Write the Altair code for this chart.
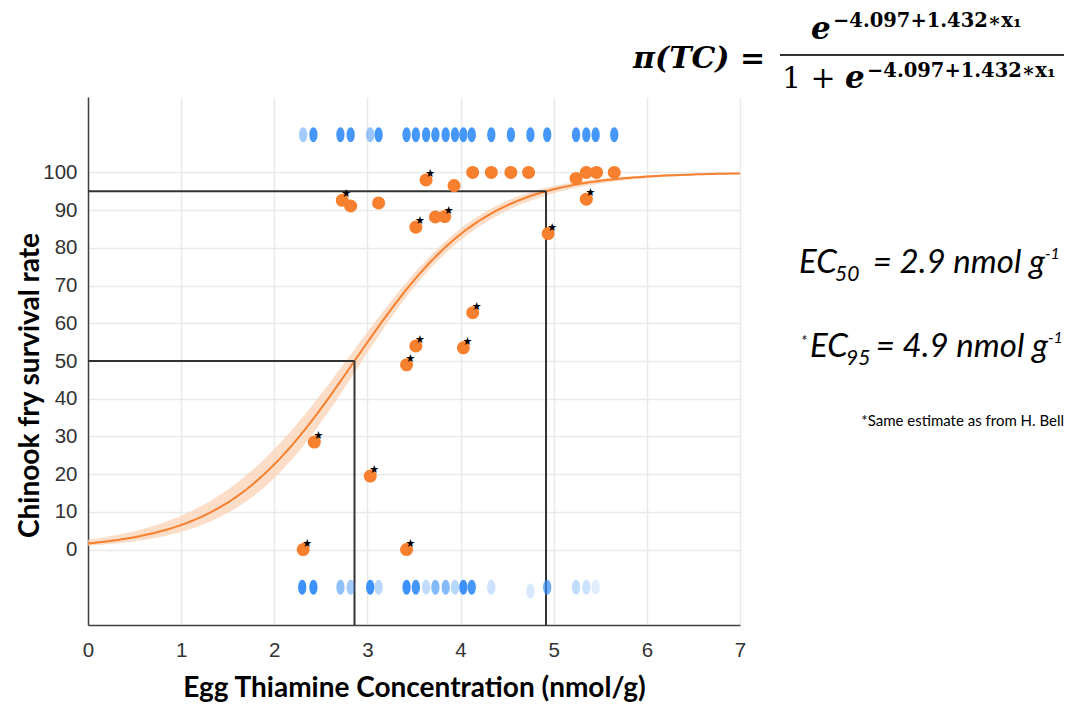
import altair as alt
import pandas as pd
import numpy as np

# ---------------- data ----------------
B0, B1 = -4.097, 1.432  # model coefficients printed in the figure

orange_x = [2.31, 2.43, 3.03, 3.42, 3.42, 3.52, 4.03, 4.13, 2.73, 2.82, 3.12, 3.63, 3.93,
            3.52, 3.73, 3.83, 4.13, 4.33, 4.54, 4.73, 5.24, 5.35, 5.46, 5.65, 5.35, 4.94]
orange_y = [0, 28.5, 19.5, 0, 49, 54, 53.5, 62.8, 92.6, 91.1, 91.9, 98, 96.5,
            85.5, 88.2, 88.3, 100, 100, 100, 100, 98.4, 100, 100, 100, 92.9, 83.8]
orange_star = [1, 1, 1, 1, 1, 1, 1, 1, 1, 0, 0, 1, 0,
               1, 0, 1, 0, 0, 0, 0, 0, 0, 0, 0, 1, 1]

blue_top_x = [2.31, 2.42, 2.71, 2.82, 3.03, 3.12, 3.42, 3.52, 3.63, 3.73, 3.84, 3.94, 4.03,
              4.12, 4.33, 4.54, 4.75, 4.93, 5.24, 5.35, 5.45, 5.65]
blue_top_op = [0.45, 0.9, 0.9, 0.9, 0.5, 0.9, 0.9, 0.9, 0.9, 0.9, 0.9, 0.9, 0.9,
               0.9, 0.9, 0.9, 0.9, 0.9, 0.9, 0.9, 0.9, 0.9]
blue_bot_x = [2.30, 2.42, 2.71, 2.82, 3.03, 3.12, 3.42, 3.52, 3.63, 3.73, 3.84, 3.94, 4.03,
              4.12, 4.33, 4.75, 4.93, 5.24, 5.35, 5.45]
blue_bot_y = [-10, -10, -10, -10, -10, -10, -10, -10, -10, -10, -10, -10, -10,
              -10, -10, -11, -10, -10, -10, -10]
blue_bot_op = [0.95, 0.95, 0.55, 0.45, 0.95, 0.35, 0.95, 0.9, 0.3, 0.6, 0.6, 0.35, 0.95,
               0.9, 0.25, 0.2, 0.7, 0.3, 0.25, 0.15]

x_ticks = [0, 1, 2, 3, 4, 5, 6, 7]
y_ticks = [0, 10, 20, 30, 40, 50, 60, 70, 80, 90, 100]

ORANGE = "#f7802f"
BLUE = "#328cfa"

# ---------------- derived tables ----------------
xs = np.linspace(0, 7, 141)
eta = B0 + B1 * xs
se = np.sqrt(0.008 + 0.018 * (xs - 3.5) ** 2)
curve = pd.DataFrame({
    "x": xs,
    "p": 100 / (1 + np.exp(-eta)),
    "lo": 100 / (1 + np.exp(-(eta - se))),
    "hi": 100 / (1 + np.exp(-(eta + se))),
})
EC50 = -B0 / B1
EC95 = (np.log(19) - B0) / B1
refs = pd.DataFrame({
    "x": [0, EC95, 0, EC50],
    "y": [95, 95, 50, 50],
    "x2": [EC95, EC95, EC50, EC50],
    "y2": [95, -20, 50, -20],
})
orange = pd.DataFrame({"x": orange_x, "y": orange_y, "star": orange_star})
blue = pd.DataFrame({
    "x": blue_top_x + blue_bot_x,
    "y": [110] * len(blue_top_x) + blue_bot_y,
    "op": blue_top_op + blue_bot_op,
})

X = alt.X("x:Q", scale=alt.Scale(domain=[0, 7], nice=False, zero=False),
          axis=alt.Axis(values=x_ticks, format="d", labelFlush=False,
                        title="Egg Thiamine Concentration (nmol/g)",
                        titleY=71, titleBaseline="alphabetic"))
Y = alt.Y("y:Q", scale=alt.Scale(domain=[-20, 120], nice=False, zero=False),
          axis=alt.Axis(values=y_ticks, format="d", labelFlush=False,
                        title="Chinook fry survival rate", titleX=-44, titleY=288))

band = alt.Chart(curve).mark_area(color="#fbd2b5", opacity=0.75).encode(
    x=X, y=alt.Y("lo:Q", scale=alt.Scale(domain=[-20, 120], nice=False, zero=False)), y2="hi:Q")
line = alt.Chart(curve).mark_line(color=ORANGE, strokeWidth=2).encode(
    x="x:Q", y=alt.Y("p:Q"))
rules = alt.Chart(refs).mark_rule(color="#333333", strokeWidth=2).encode(
    x="x:Q", y=Y, x2="x2:Q", y2="y2:Q")
blues = alt.Chart(blue).mark_point(
    shape="M0,-1A0.55,1,0,1,1,0,1A0.55,1,0,1,1,0,-1Z", size=225, filled=True,
    color=BLUE, strokeWidth=0).encode(
    x="x:Q", y="y:Q", opacity=alt.Opacity("op:Q", scale=None, legend=None))
oranges = alt.Chart(orange).mark_circle(size=170, color=ORANGE, opacity=1).encode(
    x="x:Q", y="y:Q")
stars = alt.Chart(orange).transform_filter("datum.star == 1").mark_text(
    text="★", font="DejaVu Sans", fontSize=11, color="black", dx=4, dy=-6).encode(
    x="x:Q", y="y:Q")

OX, OY = 88, 97  # page position of plot origin


def txt(text, px, py, size, font="Lato", weight="normal", style="normal",
        align="left", baseline="alphabetic", color="black"):
    return alt.Chart(pd.DataFrame({"t": [text]})).mark_text(
        align=align, baseline=baseline, font=font, fontSize=size,
        fontWeight=weight, fontStyle=style, color=color).encode(
        x=alt.value(px - OX), y=alt.value(py - OY), text="t:N")


frac = alt.Chart(pd.DataFrame({"t": [1]})).mark_rule(color="#333333", strokeWidth=2).encode(
    x=alt.value(780 - OX), x2=alt.value(1064 - OX), y=alt.value(55 - OY))

ann = [
    txt("π(TC) =", 633, 68, 30, font="DejaVu Serif", weight="bold", style="italic"),
    txt("e", 811, 39, 31, font="DejaVu Serif", weight="bold", style="italic"),
    txt("−4.097+1.432∗x₁", 833, 27, 19.5, font="DejaVu Serif", weight="bold"),
    txt("1 +", 782, 88, 30, font="DejaVu Serif"),
    txt("e", 845, 88, 31, font="DejaVu Serif", weight="bold", style="italic"),
    txt("−4.097+1.432∗x₁", 867, 77, 19.5, font="DejaVu Serif", weight="bold"),
    txt("EC", 799, 273, 33, style="italic"),
    txt("50", 835, 281, 21, style="italic"),
    txt("= 2.9 nmol g", 1045, 273, 33, style="italic", align="right"),
    txt("-1", 1045, 259, 16, style="italic"),
    txt("*", 801, 346, 15, style="italic"),
    txt("EC", 810, 357, 33, style="italic"),
    txt("95", 846, 365, 21, style="italic"),
    txt("= 4.9 nmol g", 1048, 357, 33, style="italic", align="right"),
    txt("-1", 1048, 343, 16, style="italic"),
    txt("*Same estimate as from H. Bell", 1064, 426, 15, align="right"),
]

chart = alt.layer(band, line, rules, blues, oranges, stars, frac, *ann).properties(
    width=652, height=528,
    padding={"left": 80, "top": 89, "right": 326, "bottom": 77},
    autosize=alt.AutoSizeParams(type="none"),
).configure_view(strokeWidth=0).configure_axis(
    grid=True, gridColor="#e9e9e9", gridWidth=1.5,
    domainColor="#404040", domainWidth=1.5, ticks=False,
    labelFont="Liberation Sans", labelFontSize=20.5, labelColor="#333333",
    titleFont="Lato", titleFontWeight="bold", titleFontSize=28, titleColor="black",
).configure_axisX(labelPadding=15).configure_axisY(labelPadding=11)

chart.save("out.html", embed_options={"renderer": "svg", "actions": False})
